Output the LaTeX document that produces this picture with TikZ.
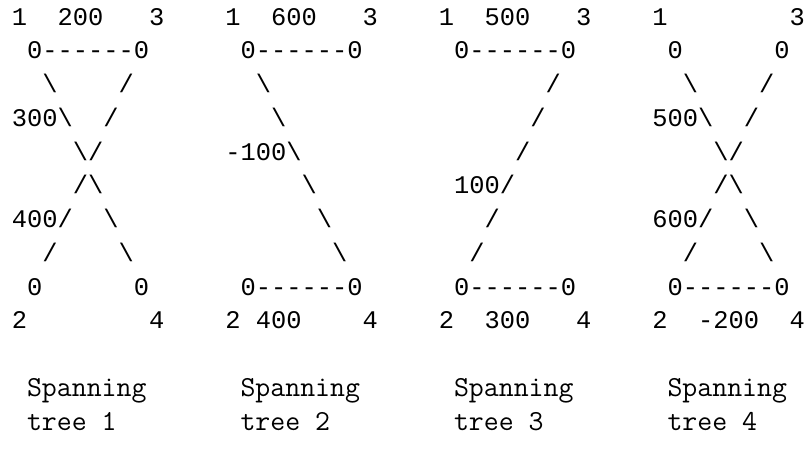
\documentclass[tikz,border=0pt]{standalone}
\usepackage{fontspec}
\newfontfamily\artfont{Liberation Mono}
\begin{document}
\begin{tikzpicture}[x=1pt,y=1pt]
\useasboundingbox (0,0) rectangle (806,-466);
\def\xo{11.6}\def\cw{15.25}\def\yb{25}\def\rh{33.75}
\tikzset{
  art/.style={inner sep=0pt, anchor=base west, font=\artfont\fontsize{25.4}{30}\selectfont},
  lbl/.style={inner sep=0pt, anchor=base west, font=\ttfamily\fontsize{29}{34}\selectfont}
}
\newcommand\tok[5][art]{\node[#1] (#2) at ({\xo+\cw*(#3)},{-(\yb+\rh*(#4))}) {#5};}
\newcommand\bs{\textbackslash}
% ---------- Tree 1 ----------
\tok{aA}{0}{0}{1}\tok{aW}{3}{0}{200}\tok{aB}{9}{0}{3}
\tok{aN1}{1}{1}{0}\tok{aN3}{8}{1}{0}
\foreach \c in {2,...,7}{\tok{ad\c}{\c}{1}{-}}
\tok{a21}{2}{2}{\bs}\tok{a22}{7}{2}{/}
\tok{a30}{0}{3}{300}\tok{a31}{3}{3}{\bs}\tok{a32}{6}{3}{/}
\tok{a41}{4}{4}{\bs}\tok{a42}{5}{4}{/}
\tok{a51}{4}{5}{/}\tok{a52}{5}{5}{\bs}
\tok{a60}{0}{6}{400}\tok{a61}{3}{6}{/}\tok{a62}{6}{6}{\bs}
\tok{a71}{2}{7}{/}\tok{a72}{7}{7}{\bs}
\tok{aN2}{1}{8}{0}\tok{aN4}{8}{8}{0}
\tok{aC}{0}{9}{2}\tok{aD}{9}{9}{4}
% ---------- Tree 2 ----------
\tok{bA}{14+0}{0}{1}\tok{bW}{14+3}{0}{600}\tok{bB}{14+9}{0}{3}
\tok{bN1}{14+1}{1}{0}\tok{bN3}{14+8}{1}{0}
\foreach \c in {2,...,7}{\tok{bd\c}{14+\c}{1}{-}}
\tok{b21}{14+2}{2}{\bs}
\tok{b31}{14+3}{3}{\bs}
\tok{b40}{14+0}{4}{-100}\tok{b41}{14+4}{4}{\bs}
\tok{b51}{14+5}{5}{\bs}
\tok{b61}{14+6}{6}{\bs}
\tok{b71}{14+7}{7}{\bs}
\tok{bN2}{14+1}{8}{0}\tok{bN4}{14+8}{8}{0}
\foreach \c in {2,...,7}{\tok{be\c}{14+\c}{8}{-}}
\tok{bC}{14+0}{9}{2}\tok{bV}{14+2}{9}{400}\tok{bD}{14+9}{9}{4}
% ---------- Tree 3 ----------
\tok{cA}{28+0}{0}{1}\tok{cW}{28+3}{0}{500}\tok{cB}{28+9}{0}{3}
\tok{cN1}{28+1}{1}{0}\tok{cN3}{28+8}{1}{0}
\foreach \c in {2,...,7}{\tok{cd\c}{28+\c}{1}{-}}
\tok{c21}{28+7}{2}{/}
\tok{c31}{28+6}{3}{/}
\tok{c41}{28+5}{4}{/}
\tok{c50}{28+1}{5}{100}\tok{c51}{28+4}{5}{/}
\tok{c61}{28+3}{6}{/}
\tok{c71}{28+2}{7}{/}
\tok{cN2}{28+1}{8}{0}\tok{cN4}{28+8}{8}{0}
\foreach \c in {2,...,7}{\tok{ce\c}{28+\c}{8}{-}}
\tok{cC}{28+0}{9}{2}\tok{cV}{28+3}{9}{300}\tok{cD}{28+9}{9}{4}
% ---------- Tree 4 ----------
\tok{dA}{42+0}{0}{1}\tok{dB}{42+9}{0}{3}
\tok{dN1}{42+1}{1}{0}\tok{dN3}{42+8}{1}{0}
\tok{d21}{42+2}{2}{\bs}\tok{d22}{42+7}{2}{/}
\tok{d30}{42+0}{3}{500}\tok{d31}{42+3}{3}{\bs}\tok{d32}{42+6}{3}{/}
\tok{d41}{42+4}{4}{\bs}\tok{d42}{42+5}{4}{/}
\tok{d51}{42+4}{5}{/}\tok{d52}{42+5}{5}{\bs}
\tok{d60}{42+0}{6}{600}\tok{d61}{42+3}{6}{/}\tok{d62}{42+6}{6}{\bs}
\tok{d71}{42+2}{7}{/}\tok{d72}{42+7}{7}{\bs}
\tok{dN2}{42+1}{8}{0}\tok{dN4}{42+8}{8}{0}
\foreach \c in {2,...,7}{\tok{de\c}{42+\c}{8}{-}}
\tok{dC}{42+0}{9}{2}\tok{dV}{42+3}{9}{-200}\tok{dD}{42+9}{9}{4}
% ---------- Captions ----------
\tok[lbl]{l1a}{1}{11}{Spanning}\tok[lbl]{l1b}{1}{12}{tree 1}
\tok[lbl]{l2a}{15}{11}{Spanning}\tok[lbl]{l2b}{15}{12}{tree 2}
\tok[lbl]{l3a}{29}{11}{Spanning}\tok[lbl]{l3b}{29}{12}{tree 3}
\tok[lbl]{l4a}{43}{11}{Spanning}\tok[lbl]{l4b}{43}{12}{tree 4}
\end{tikzpicture}
\end{document}
